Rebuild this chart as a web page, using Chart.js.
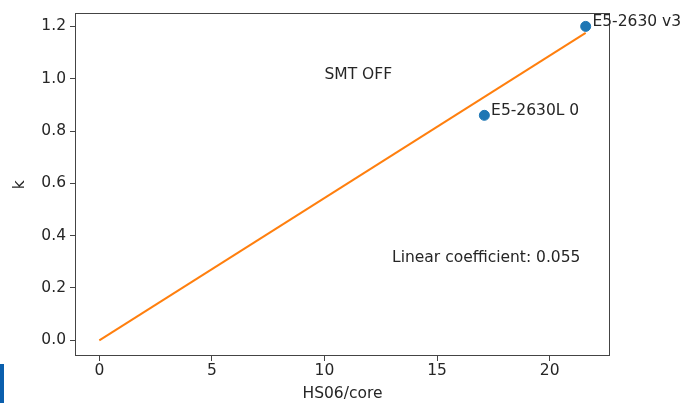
<!DOCTYPE html>
<html>
<head>
<meta charset="utf-8">
<script src="https://cdn.jsdelivr.net/npm/chart.js@4"></script>
<style>
  html, body { margin: 0; padding: 0; background: #fff; }
  #wrap { width: 681px; height: 403px; position: relative; }
</style>
</head>
<body>
<div id="wrap"><canvas id="scatterChart"></canvas></div>
<script>
// cpu models and their measured k vs HS06/core
const cpuNames = ['E5-2630L 0', 'E5-2630 v3'];
const hs06PerCore = [17.1, 21.6];
const kValues = [0.86, 1.2];

// fitted line (through origin)
const fitX = [0, 21.6];
const fitY = [0, 1.175];

const xTicks = [0, 5, 10, 15, 20];
const yTicks = [0.0, 0.2, 0.4, 0.6, 0.8, 1.0, 1.2];

const notes = [
  { text: 'SMT OFF', x: 10, y: 1.0 },
  { text: 'Linear coefficient: 0.055', x: 13, y: 0.3 }
];

const fontSize = 15.5;
const font = fontSize + 'px "DejaVu Sans", sans-serif';
const textColor = '#262626';

const pointData = hs06PerCore.map((x, i) => ({ x: x, y: kValues[i] }));
const lineData = fitX.map((x, i) => ({ x: x, y: fitY[i] }));

// box around the plot, point labels, free text, the blue strip at the left edge
const extras = {
  id: 'extras',
  afterDatasetsDraw(chart) {
    const ctx = chart.ctx;
    const a = chart.chartArea;
    const xs = chart.scales.x, ys = chart.scales.y;
    ctx.save();
    ctx.strokeStyle = '#444';
    ctx.lineWidth = 1;
    ctx.strokeRect(Math.round(a.left) + 0.5, Math.round(a.top) + 0.5,
      Math.round(a.right - a.left) - 1, Math.round(a.bottom - a.top) - 1);

    ctx.font = font;
    ctx.fillStyle = textColor;
    ctx.textAlign = 'left';
    ctx.textBaseline = 'alphabetic';
    cpuNames.forEach((name, i) => {
      ctx.fillText(name, xs.getPixelForValue(hs06PerCore[i] + 0.3), ys.getPixelForValue(kValues[i]));
    });
    notes.forEach(n => {
      ctx.fillText(n.text, xs.getPixelForValue(n.x), ys.getPixelForValue(n.y));
    });

    ctx.fillStyle = '#0a5fad';
    ctx.fillRect(0, 364, 4, 39);
    ctx.restore();
  }
};

const tickFont = { family: '"DejaVu Sans"', size: fontSize };

const config = {
  type: 'scatter',
  data: {
    datasets: [
      {
        label: 'fit',
        data: lineData,
        showLine: true,
        borderColor: '#ff7f0e',
        borderWidth: 2,
        pointRadius: 0,
        order: 2
      },
      {
        label: 'cpus',
        data: pointData,
        backgroundColor: '#1f77b4',
        borderColor: '#1f77b4',
        pointRadius: 5,
        order: 1
      }
    ]
  },
  options: {
    responsive: true,
    maintainAspectRatio: false,
    animation: false,
    layout: { autoPadding: false, padding: { left: 0, right: 71, top: 8, bottom: 0 } },
    plugins: {
      legend: { display: false },
      tooltip: { enabled: false }
    },
    scales: {
      x: {
        type: 'linear',
        min: -1.08,
        max: 22.68,
        afterBuildTicks: s => { s.ticks = xTicks.map(v => ({ value: v })); },
        afterFit: s => { s.height = 47; },
        ticks: { font: tickFont, color: textColor, padding: 1, maxRotation: 0 },
        grid: { drawOnChartArea: false, tickLength: 5, color: '#444' },
        border: { display: false },
        title: {
          display: true,
          text: 'HS06/core',
          font: tickFont,
          color: textColor,
          padding: { top: 3, bottom: 0 }
        }
      },
      y: {
        type: 'linear',
        min: -0.06,
        max: 1.25,
        afterBuildTicks: s => { s.ticks = yTicks.map(v => ({ value: v })); },
        afterFit: s => { s.width = 75; },
        ticks: {
          font: tickFont,
          color: textColor,
          padding: 4,
          callback: v => Number(v).toFixed(1)
        },
        grid: { drawOnChartArea: false, tickLength: 5, color: '#444' },
        border: { display: false },
        title: {
          display: true,
          text: 'k',
          font: tickFont,
          color: textColor,
          padding: { top: 11, bottom: 0 }
        }
      }
    }
  },
  plugins: [extras]
};

const myChart = new Chart(document.getElementById('scatterChart'), config);
</script>
</body>
</html>
